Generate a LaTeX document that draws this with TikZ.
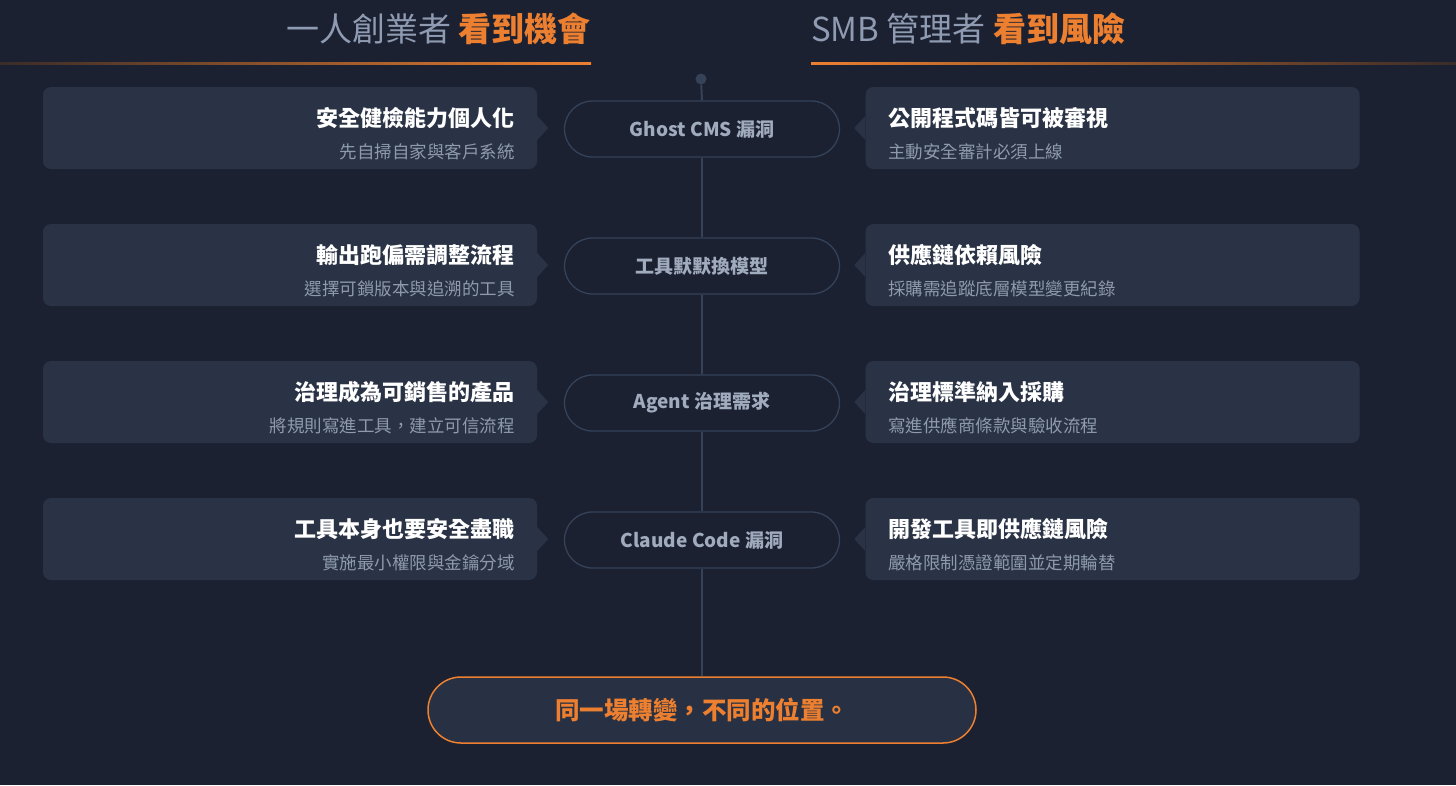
\documentclass[tikz,border=0pt]{standalone}
\usepackage{fontspec}
\setmainfont{Noto Sans CJK TC}
\definecolor{bg}{HTML}{1B2130}
\definecolor{cardc}{HTML}{2A3345}
\definecolor{pillline}{HTML}{34425A}
\definecolor{spinec}{HTML}{354257}
\definecolor{subc}{HTML}{8E9AAE}
\definecolor{pilltxt}{HTML}{A0ABBE}
\definecolor{orng}{HTML}{EC7F30}
\definecolor{hdr}{HTML}{8F9BB2}
\definecolor{dimor}{HTML}{3A2C28}
\definecolor{botfill}{HTML}{283143}
\tikzset{
  cardbox/.style={fill=cardc, rounded corners=8pt, minimum width=494pt, minimum height=82pt, inner sep=0pt},
  pillbox/.style={draw=pillline, line width=1.3pt, fill=bg, rounded corners=28pt, minimum width=275pt, minimum height=56pt, inner sep=0pt, text=pilltxt, font=\fontsize{19}{21}\selectfont\bfseries},
  ttlL/.style={anchor=base east, inner sep=0pt, text=white, font=\fontsize{22}{24}\selectfont\bfseries},
  ttlR/.style={anchor=base west, inner sep=0pt, text=white, font=\fontsize{22}{24}\selectfont\bfseries},
  subL/.style={anchor=base east, inner sep=0pt, text=subc, font=\fontsize{17.5}{20}\selectfont},
  subR/.style={anchor=base west, inner sep=0pt, text=subc, font=\fontsize{17.5}{20}\selectfont},
  spine/.style={draw=spinec, line width=2pt},
  hdrtxt/.style={inner sep=0pt, text=hdr, font=\fontsize{33}{37}\selectfont}
}
\begin{document}
\begin{tikzpicture}[x=1pt,y=-1pt]
\fill[bg] (0,0) rectangle (1456,785);
\useasboundingbox (0,0) rectangle (1456,785);

% headers
\node[hdrtxt, anchor=base east] (hL) at (591,41) {一人創業者 \textcolor{orng}{\bfseries 看到機會}};
\node[hdrtxt, anchor=base west] (hR) at (811,41) {SMB 管理者 \textcolor{orng}{\bfseries 看到風險}};
\shade[left color=dimor, right color=orng] (0,62) rectangle (591,64.5);
\shade[left color=orng, right color=dimor] (811,62) rectangle (1456,64.5);

% spine nodes
\node[circle, fill=spinec, minimum size=11pt, inner sep=0pt] (dot) at (701,79) {};
\node[pillbox] (P1) at (702,129) {Ghost CMS 漏洞};
\node[pillbox] (P2) at (702,266) {工具默默換模型};
\node[pillbox] (P3) at (702,403) {Agent 治理需求};
\node[pillbox] (P4) at (702,540) {Claude Code 漏洞};
\node[draw=orng, line width=1.5pt, fill=botfill, rounded corners=33pt, minimum width=548pt, minimum height=66pt, inner sep=0pt, text=orng, font=\fontsize{24.5}{28}\selectfont\bfseries] (B) at (702,710) {同一場轉變，不同的位置。};

\draw[spine] (dot) -- (P1.north);
\draw[spine] (P1.south) -- (P2.north);
\draw[spine] (P2.south) -- (P3.north);
\draw[spine] (P3.south) -- (P4.north);
\draw[spine] (P4.south) -- (B.north);

% cards
\foreach \n/\c in {1/128,2/265,3/402,4/539}{
  \node[cardbox] (L\n) at (290,\c) {};
  \fill[cardc] (L\n.east) ++(0,-12) -- ++(11,12) -- ++(-11,12) -- cycle;
  \node[cardbox] (R\n) at (1112.5,\c) {};
  \fill[cardc] (R\n.west) ++(0,-12) -- ++(-11,12) -- ++(11,12) -- cycle;
}

\node[ttlL] (L1t) at (515,126.5) {安全健檢能力個人化};
\node[subL] (L1s) at (515,158.7) {先自掃自家與客戶系統};
\node[ttlL] (L2t) at (515,263.5) {輸出跑偏需調整流程};
\node[subL] (L2s) at (515,295.7) {選擇可鎖版本與追溯的工具};
\node[ttlL] (L3t) at (515,400.5) {治理成為可銷售的產品};
\node[subL] (L3s) at (515,432.7) {將規則寫進工具，建立可信流程};
\node[ttlL] (L4t) at (515,537.5) {工具本身也要安全盡職};
\node[subL] (L4s) at (515,569.7) {實施最小權限與金鑰分域};

\node[ttlR] (R1t) at (888,126.5) {公開程式碼皆可被審視};
\node[subR] (R1s) at (888,158.7) {主動安全審計必須上線};
\node[ttlR] (R2t) at (888,263.5) {供應鏈依賴風險};
\node[subR] (R2s) at (888,295.7) {採購需追蹤底層模型變更紀錄};
\node[ttlR] (R3t) at (888,400.5) {治理標準納入採購};
\node[subR] (R3s) at (888,432.7) {寫進供應商條款與驗收流程};
\node[ttlR] (R4t) at (888,537.5) {開發工具即供應鏈風險};
\node[subR] (R4s) at (888,569.7) {嚴格限制憑證範圍並定期輪替};
\end{tikzpicture}
\end{document}
